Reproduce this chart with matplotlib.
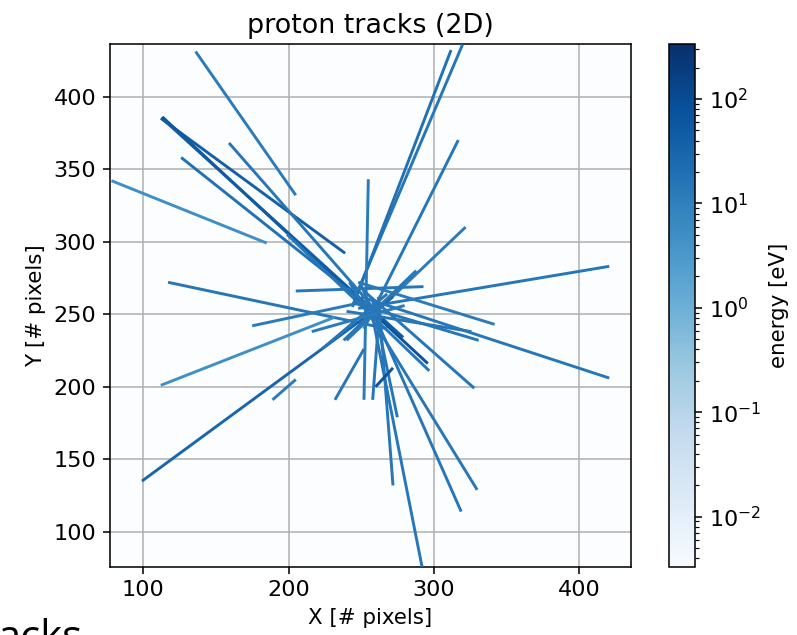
import numpy as np
import matplotlib
matplotlib.use("Agg")
import matplotlib.pyplot as plt
from matplotlib.colors import LogNorm
from matplotlib.collections import LineCollection

plt.rcParams["font.size"] = 11.5

# track endpoints (x in pixels, y in pixels) and deposited energy (eV)
x_start = [136, 112, 113, 114, 159, 126, 78, 199, 117, 320, 312, 317, 322, 421, 255,
           99, 112, 175, 189, 232, 258, 421, 342, 328, 330, 319, 292, 272, 331,
           326, 275, 260, 205, 288, 223, 216]
y_start = [431, 385, 386, 384, 368, 358, 342, 305, 272, 436, 432, 370, 310, 283, 343,
           135, 201, 242, 191, 191, 191, 206, 243, 199, 129, 114, 76, 132, 232,
           238, 179, 200, 266, 280, 226, 238]
x_end = [205, 239, 296, 279, 252, 262, 185, 297, 268, 246, 244, 252, 240, 248, 252,
         272, 232, 250, 205, 252, 262, 250, 248, 252, 242, 250, 256, 262, 244,
         240, 258, 272, 293, 238, 268, 280]
y_end = [332, 292, 216, 234, 262, 250, 299, 211, 240, 262, 255, 240, 232, 254, 191,
         262, 248, 258, 205, 226, 244, 262, 272, 266, 272, 270, 258, 262, 258,
         252, 260, 213, 269, 232, 264, 256]
energy = [12, 40, 70, 50, 15, 18, 5, 14, 15, 15, 18, 14, 12, 15, 12,
          30, 5, 12, 12, 15, 15, 15, 12, 15, 15, 15, 15, 14, 14,
          14, 14, 70, 14, 14, 14, 12]

e_min, e_max = 3.3e-3, 336

fig = plt.figure(figsize=(797 / 140, 635 / 140), dpi=140)
ax = fig.add_axes([110 / 797, 68 / 635, 521 / 797, 523 / 635])
cax = fig.add_axes([669 / 797, 68 / 635, 26 / 797, 523 / 635])

norm = LogNorm(vmin=e_min, vmax=e_max)
cmap = plt.get_cmap("Blues")
segs = [[(x0, y0), (x1, y1)] for x0, y0, x1, y1 in zip(x_start, y_start, x_end, y_end)]
lc = LineCollection(segs, cmap=cmap, norm=norm, linewidths=1.5, zorder=3)
lc.set_array(np.array(energy, dtype=float))
ax.add_collection(lc)

ax.set_xlim(77, 436)
ax.set_ylim(76, 436)
ax.set_aspect("equal")
ax.set_xticks([100, 200, 300, 400])
ax.set_yticks([100, 150, 200, 250, 300, 350, 400])
ax.grid(True, color="#b0b0b0", linewidth=0.8, zorder=0)
ax.set_axisbelow(True)
ax.set_facecolor("#fbfdff")
ax.set_title("proton tracks (2D)")
ax.set_xlabel("X [# pixels]", fontsize=11)
ax.set_ylabel("Y [# pixels]", fontsize=11)

cb = fig.colorbar(lc, cax=cax)
cb.set_label("energy [eV]", fontsize=11)

fig.text(-0.004, 0.026, "acks", fontsize=21.5, family="Open Sans", va="top", ha="left")

fig.savefig("out.png", dpi=140)
